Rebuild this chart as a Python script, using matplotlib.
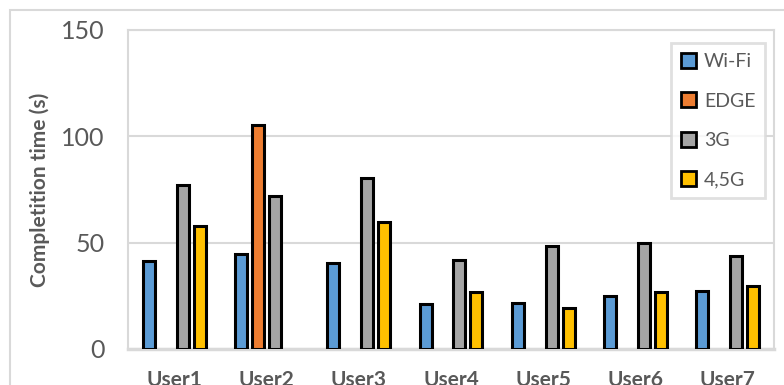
import numpy as np
import matplotlib.pyplot as plt
from matplotlib.patches import Rectangle, Patch

users = ['User1', 'User2', 'User3', 'User4', 'User5', 'User6', 'User7']
networks = ['Wi-Fi', 'EDGE', '3G', '4,5G']
wifi = [41.5, 44.5, 40.5, 21, 21.5, 25, 27.5]
edge = [None, 105.5, None, None, None, None, None]
g3 = [77, 72, 80.5, 42, 48.5, 50, 43.5]
g45 = [58, None, 59.5, 27, 19.5, 27, 29.5]
colors = ['#5B9BD5', '#ED7D31', '#A5A5A5', '#FFC000']

plt.rcParams['font.family'] = ['Lato', 'DejaVu Sans']

fig = plt.figure(figsize=(7.84, 3.85), dpi=100)
# outer chart border
fig.patches.append(Rectangle((10 / 784, -0.1), 1.2, 1 - 10 / 385 + 0.1,
                             transform=fig.transFigure, fill=False,
                             edgecolor='#D9D9D9', linewidth=1.5))

ax = fig.add_axes([128 / 784, 1 - 349 / 385, 646 / 784, 319 / 385])

x = np.arange(len(users))
slot = 0.184
width = 0.13
for k, (vals, c) in enumerate(zip([wifi, edge, g3, g45], colors)):
    xs = [xi + (k - 1.5) * slot for xi, v in zip(x, vals) if v is not None]
    hs = [v for v in vals if v is not None]
    ax.bar(xs, hs, width, color=c, edgecolor='black', linewidth=2.2, zorder=3)

ax.set_xlim(-0.5, 6.5)
ax.set_ylim(0, 150)
ax.set_yticks([0, 50, 100, 150])
ax.yaxis.grid(True, color='#D9D9D9', linewidth=1.5, zorder=0)
for s in ['top', 'right', 'left']:
    ax.spines[s].set_color('#D9D9D9')
    ax.spines[s].set_linewidth(1.5)
ax.spines['bottom'].set_color('#D9D9D9')
ax.spines['bottom'].set_linewidth(2.5)
ax.tick_params(length=0)
ax.tick_params(axis='y', labelsize=18, labelcolor='#595959', pad=17)
ax.set_xticks(x)
ax.set_xticklabels(users, fontsize=15, fontweight='bold', color='#595959')
ax.tick_params(axis='x', pad=15)
ax.set_ylabel('Completition time (s)', fontsize=15, fontweight='bold',
              color='#595959', labelpad=8)

handles = [Patch(facecolor=c, edgecolor='black', linewidth=2) for c in colors]
leg = ax.legend(handles, networks, loc='upper left',
                bbox_to_anchor=(0.8406, 0.959), fontsize=14,
                labelcolor='#595959', frameon=True, fancybox=False,
                edgecolor='#D9D9D9', handlelength=0.8, handleheight=0.8,
                handletextpad=0.4, labelspacing=1.15, borderpad=0.5,
                borderaxespad=0)
leg.get_frame().set_linewidth(2)

fig.savefig('out.png', dpi=100)
